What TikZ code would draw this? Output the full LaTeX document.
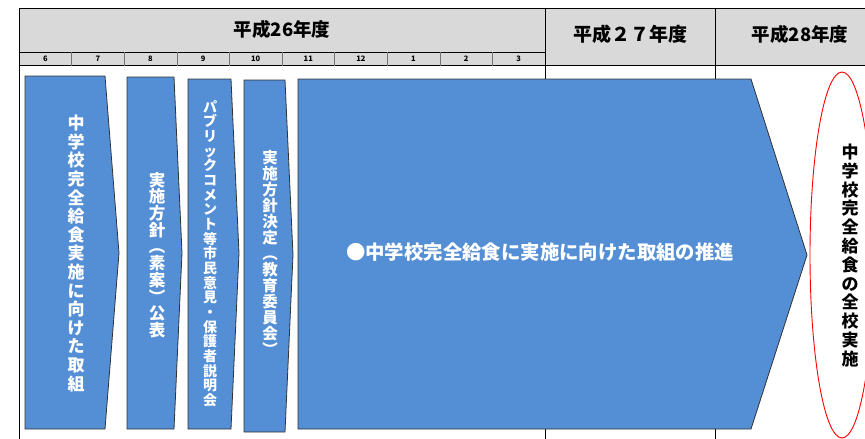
\documentclass[tikz,border=0pt]{standalone}
\usepackage{fontspec}
\setmainfont{Noto Sans CJK JP}
\definecolor{fillblue}{RGB}{84,142,213}
\definecolor{hdrgray}{RGB}{217,217,217}
\begin{document}
\begin{tikzpicture}[x=1pt,y=-1pt,
  stage/.style={fill=fillblue,draw=black!80,line width=0.8pt,line join=miter},
  grid/.style={draw=black,line width=0.8pt},
  vt/.style 2 args={text=white,font=\bfseries\fontsize{#1}{#2}\selectfont,align=center,inner sep=0pt},
  hdr/.style={font=\bfseries\fontsize{18.5}{18.5}\selectfont,inner sep=0pt},
  mon/.style={font=\bfseries\fontsize{7.5}{7.5}\selectfont,inner sep=0pt}]
\useasboundingbox (0,0) rectangle (865,439);
% header
\fill[hdrgray] (19,8) rectangle (865,65);
\draw[grid] (19,8) -- (865,8);
\draw[grid] (19,52) -- (545,52);
\draw[grid] (19,65.5) -- (865,65.5);
\draw[grid] (19,8) -- (19,439);
\draw[grid] (545,8) -- (545,439);
\draw[grid] (715,8) -- (715,439);
\foreach \i in {1,...,9}{
  \draw[black!55,line width=0.6pt] ({19+52.6*\i},52) -- ({19+52.6*\i},65.5);
}
\foreach \m [count=\i from 0] in {6,7,8,9,10,11,12,1,2,3}{
  \node[mon] (m\i) at ({19+52.6*(\i+0.5)},58.8) {\m};
}
\node[hdr] (h26) at (282,29) {平成26年度};
\node[hdr,font=\bfseries\fontsize{19}{19}\selectfont] (h27) at (630,34) {平成２７年度};
\node[hdr] (h28) at (800,34) {平成28年度};
% stages
\draw[stage] (25,76) -- (105,76) -- (119,253) -- (105,429) -- (25,429) -- cycle;
\draw[stage] (127,77) -- (174,77) -- (182,253) -- (174,429) -- (127,429) -- cycle;
\draw[stage] (188,79) -- (231,79) -- (239,253) -- (231,429) -- (188,429) -- cycle;
\draw[stage] (244,80) -- (285,80) -- (293,255) -- (285,432) -- (244,432) -- cycle;
\draw[stage] (298,79) -- (751,79) -- (807,255) -- (751,429) -- (298,429) -- cycle;
\node[vt={17}{18.6}] (t1) at (76,253.5) {中\\学\\校\\完\\全\\給\\食\\実\\施\\に\\向\\け\\た\\取\\組};
\node[vt={16.5}{16.7}] (t2) at (157,255) {実\\施\\方\\針\\︵\\素\\案\\︶\\公\\表};
\node[vt={14}{14.65}] (t3) at (210,253.5) {パ\\ブ\\リ\\ッ\\ク\\コ\\メ\\ン\\ト\\等\\市\\民\\意\\見\\・\\保\\護\\者\\説\\明\\会};
\node[vt={15.5}{16}] (t4) at (270,252.5) {実\\施\\方\\針\\決\\定\\︵\\教\\育\\委\\員\\会\\︶};
\node[text=white,font=\bfseries\fontsize{19.4}{19.4}\selectfont,inner sep=0pt] (t5) at (540,252) {●中学校完全給食に実施に向けた取組の推進};
% goal
\draw[red,line width=0.9pt] (842,255) ellipse [x radius=32,y radius=183];
\node[vt={17}{18.8},text=black] (t6) at (850,255.5) {中\\学\\校\\完\\全\\給\\食\\の\\全\\校\\実\\施};
\end{tikzpicture}
\end{document}
